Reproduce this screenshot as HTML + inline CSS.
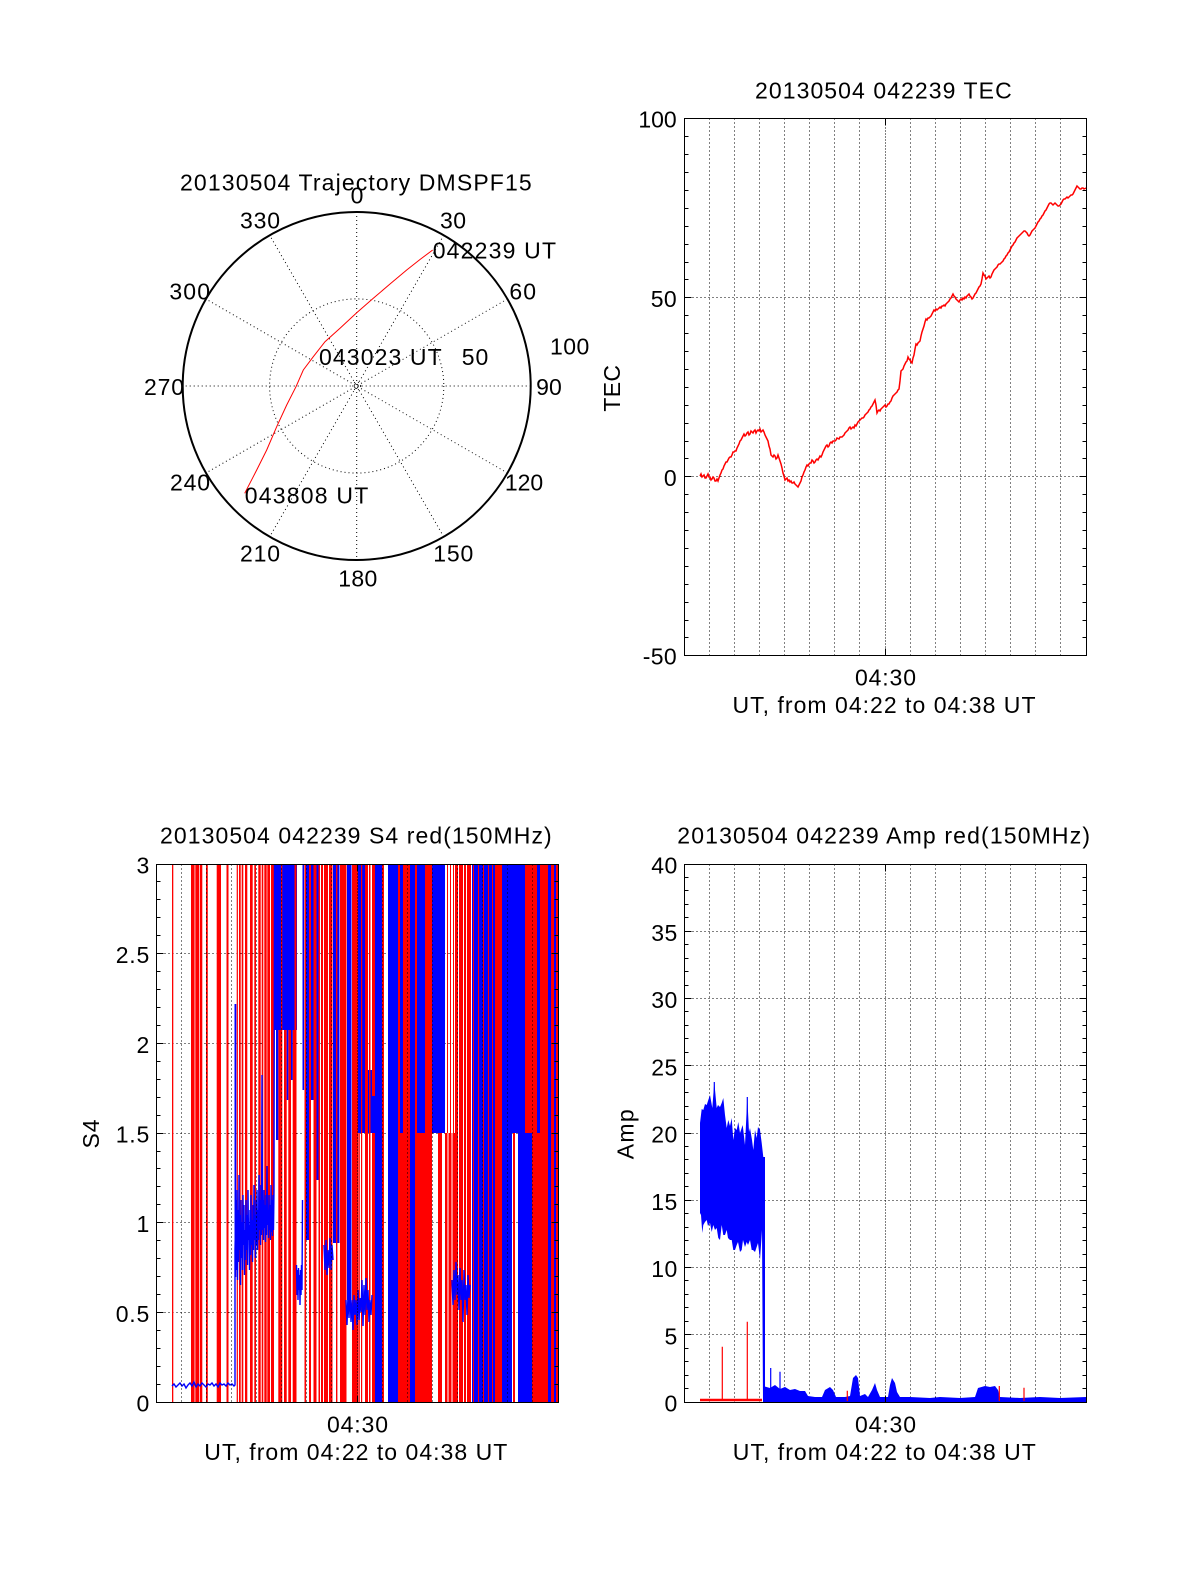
<!DOCTYPE html>
<html><head><meta charset="utf-8"><style>
html,body{margin:0;padding:0;background:#fff}
svg{display:block}
text{font-family:"Liberation Sans",Arial,Helvetica,sans-serif;font-size:23px;fill:#000}
.ax{fill:none;stroke:#000;stroke-width:1}
.g{fill:none;stroke:#000;stroke-width:1;stroke-dasharray:1 3}
.g2{fill:none;stroke:#000;stroke-width:1;stroke-dasharray:1 2}
.r{fill:#ff0000}.b{fill:#0000ff}
.rl{fill:none;stroke:#ff0000;stroke-width:1.5}
.bl{fill:none;stroke:#0000ff;stroke-width:1.4}
</style></head><body>
<svg width="1200" height="1575" viewBox="0 0 1200 1575" xmlns="http://www.w3.org/2000/svg">
<rect width="1200" height="1575" fill="#fff"/>

<!-- ================= POLAR ================= -->
<g>
<circle cx="356.7" cy="386" r="87.1" class="g" stroke-dasharray="1 3"/>
<circle cx="356.7" cy="386" r="4" class="g" stroke-dasharray="1 2"/>
<path class="g" d="M356.7 212L356.7 560M443.7 235.3L269.7 536.7M507.4 299L206 473M530.7 386L182.7 386M507.4 473L206 299M443.7 536.7L269.7 235.3"/>
<circle cx="356.7" cy="386" r="174" fill="none" stroke="#000" stroke-width="2"/>
<polyline fill="none" stroke="#ff0000" stroke-width="1" points="432.7,250 420,259.5 406.7,270 390,284 373.3,298.3 356.7,312.7 340,328.3 325,341.7 313.3,356.7 303.3,370 296,386.7 286.7,405 276.7,426.7 266.7,450 256.7,470 244.7,493.3"/>
<text x="180" y="190.7" textLength="351.7">20130504 Trajectory DMSPF15</text>
<text x="357" y="203.3" text-anchor="middle">0</text>
<text x="260" y="228.3" text-anchor="middle" textLength="40">330</text>
<text x="453" y="228.3" text-anchor="middle" textLength="26">30</text>
<text x="432.7" y="258.3" textLength="123.3">042239 UT</text>
<text x="189.7" y="299.3" text-anchor="middle" textLength="40.7">300</text>
<text x="522.7" y="299.3" text-anchor="middle" textLength="26.7">60</text>
<text x="569.7" y="354.3" text-anchor="middle" textLength="39.3">100</text>
<text x="319" y="365" textLength="122.7">043023 UT</text>
<text x="475" y="365" text-anchor="middle" textLength="26.6">50</text>
<text x="164" y="395" text-anchor="middle" textLength="40">270</text>
<text x="549" y="395" text-anchor="middle" textLength="25.7">90</text>
<text x="190" y="490.7" text-anchor="middle" textLength="40">240</text>
<text x="524" y="490.7" text-anchor="middle" textLength="38.3">120</text>
<text x="244.7" y="503.3" textLength="123.6">043808 UT</text>
<text x="260" y="561.7" text-anchor="middle" textLength="40">210</text>
<text x="453.3" y="561.7" text-anchor="middle" textLength="40">150</text>
<text x="357.8" y="586.7" text-anchor="middle" textLength="39">180</text>
</g>

<!-- ================= TEC ================= -->
<g>
<path class="g" d="M684.5 297.5H1086.5M684.5 476.5H1086.5"/>
<path class="g" d="M709.5 118.5V655.5M734.5 118.5V655.5M759.5 118.5V655.5M784.5 118.5V655.5M809.5 118.5V655.5M834.5 118.5V655.5M859.5 118.5V655.5M910.5 118.5V655.5M935.5 118.5V655.5M960.5 118.5V655.5M985.5 118.5V655.5M1010.5 118.5V655.5M1035.5 118.5V655.5M1060.5 118.5V655.5"/>
<path class="g2" d="M885.5 118.5V655.5"/>
<polyline class="rl" points="700,476 701,474 702,477 703,476 704,475 705,478 706,478 707,476 708,474 709,477 710,477 711,480 712,479 713,477 714,478 715,481 716,481 717,479 718,481 719,478 720,475 721,473 722,470 723,469 724,466 725,464 726,462 727,462 728,460 729,458 730,457 731,457 732,455 733,452 734,452 735,451 736,451 737,448 738,446 739,444 740,441 741,440 742,438 743,436 744,434 745,436 746,435 747,433 748,432 749,435 750,434 751,431 752,432 753,433 754,431 755,430 756,433 757,431 758,430 759,431 760,429 761,432 762,431 763,430 764,432 765,435 766,437 767,439 768,441 769,446 770,449 771,455 772,456 773,457 774,455 775,456 776,459 777,458 778,455 779,458 780,461 781,464 782,468 783,473 784,476 785,480 786,479 787,478 788,481 789,480 790,482 791,481 792,483 793,483 794,482 795,484 796,485 797,486 798,487 799,485 800,483 801,481 802,477 803,475 804,472 805,470 806,467 807,465 808,466 809,464 810,463 811,463 812,460 813,461 814,463 815,462 816,460 817,459 818,460 819,458 820,456 821,457 822,455 823,452 824,450 825,448 826,446 827,445 828,447 829,446 830,443 831,442 832,443 833,441 835,441 836,440 837,438 839,439 840,437 842,437 843,436 844,435 845,433 846,432 847,431 848,430 849,428 850,427 851,429 852,428 853,427 854,428 855,425 856,426 857,424 858,422 859,421 860,420 861,419 862,418 863,418 864,417 865,415 866,414 867,413 868,412 869,410 870,409 871,407 872,406 873,404 874,402 875,400 876,405 877,413 878,411 879,410 880,411 881,409 882,408 883,407 884,406 885,405 886,407 887,406 888,404 889,404 890,402 891,401 892,398 893,396 894,395 895,394 896,393 897,392 898,390 899,389 900,381 901,371 902,370 903,369 904,366 905,364 906,362 907,361 908,357 909,359 910,360 911,362 912,363 913,358 914,355 915,349 916,344 917,345 918,343 919,342 920,341 921,336 922,332 923,329 924,326 925,322 926,319 927,320 928,318 929,318 930,317 931,316 932,314 933,312 934,310 935,311 936,309 937,310 938,309 939,308 940,307 941,308 942,306 943,306 944,305 945,306 946,304 947,303 948,302 949,301 950,299 951,298 952,296 953,294 954,296 955,297 956,299 957,300 958,301 959,302 960,300 961,299 962,300 963,298 964,299 965,297 966,298 967,296 968,295 969,294 970,296 971,297 972,299 973,298 974,296 975,294 976,293 977,291 978,289 979,287 980,286 981,284 982,279 983,273 984,275 985,276 986,279 987,278 988,277 989,276 990,278 991,277 992,274 993,272 994,270 995,269 996,268 997,267 998,265 999,264 1000,264 1001,263 1002,262 1003,261 1004,259 1005,258 1006,256 1007,255 1008,253 1009,252 1010,250 1011,248 1012,246 1013,245 1014,243 1015,242 1016,240 1017,238 1018,237 1019,236 1020,235 1021,234 1022,233 1023,232 1024,231 1025,231 1026,232 1027,233 1028,235 1029,236 1030,235 1031,233 1032,231 1033,230 1034,229 1035,228 1036,226 1037,224 1038,222 1039,221 1040,219 1041,218 1042,216 1043,215 1044,213 1045,211 1046,210 1047,208 1048,206 1049,204 1050,203 1051,203 1052,204 1053,205 1054,204 1055,203 1056,204 1057,205 1058,206 1059,206 1060,205 1061,204 1062,202 1063,200 1064,199 1065,199 1066,198 1067,197 1068,198 1069,197 1070,196 1071,195 1072,195 1073,194 1074,192 1075,190 1076,188 1077,186 1078,187 1079,188 1080,189 1081,189 1082,188 1083,188 1084,189 1086,188"/>
<rect class="ax" x="684.5" y="118.5" width="402" height="537"/>
<path class="ax" d="M684.5 136.5h4M684.5 154.5h4M684.5 172.5h4M684.5 190.5h4M684.5 208.5h4M684.5 226.5h4M684.5 244.5h4M684.5 262.5h4M684.5 279.5h4M684.5 315.5h4M684.5 333.5h4M684.5 351.5h4M684.5 369.5h4M684.5 387.5h4M684.5 405.5h4M684.5 423.5h4M684.5 441.5h4M684.5 458.5h4M684.5 494.5h4M684.5 512.5h4M684.5 530.5h4M684.5 548.5h4M684.5 566.5h4M684.5 584.5h4M684.5 602.5h4M684.5 620.5h4M684.5 637.5h4
M1086.5 136.5h-4M1086.5 154.5h-4M1086.5 172.5h-4M1086.5 190.5h-4M1086.5 208.5h-4M1086.5 226.5h-4M1086.5 244.5h-4M1086.5 262.5h-4M1086.5 279.5h-4M1086.5 315.5h-4M1086.5 333.5h-4M1086.5 351.5h-4M1086.5 369.5h-4M1086.5 387.5h-4M1086.5 405.5h-4M1086.5 423.5h-4M1086.5 441.5h-4M1086.5 458.5h-4M1086.5 494.5h-4M1086.5 512.5h-4M1086.5 530.5h-4M1086.5 548.5h-4M1086.5 566.5h-4M1086.5 584.5h-4M1086.5 602.5h-4M1086.5 620.5h-4M1086.5 637.5h-4
M684.5 297.5h7M684.5 476.5h7M1086.5 297.5h-7M1086.5 476.5h-7M885.5 655.5v-7M885.5 118.5v7"/>
<text x="755" y="98.3" textLength="256.7">20130504 042239 TEC</text>
<text x="676.7" y="127.7" text-anchor="end" textLength="38.3">100</text>
<text x="676.7" y="306.8" text-anchor="end" textLength="26">50</text>
<text x="676.7" y="486" text-anchor="end">0</text>
<text x="676.7" y="664.5" text-anchor="end" textLength="34">-50</text>
<text x="885.5" y="685.3" text-anchor="middle" textLength="61">04:30</text>
<text x="884" y="713" text-anchor="middle" textLength="303">UT, from 04:22 to 04:38 UT</text>
<text transform="translate(620 388.3) rotate(-90)" text-anchor="middle" textLength="46.7">TEC</text>
</g>

<!-- ================= S4 ================= -->
<g>
<path class="g" d="M156.5 1312.5H558.5M156.5 1222.5H558.5M156.5 1133.5H558.5M156.5 1043.5H558.5M156.5 953.5H558.5"/>
<rect class="r" x="172" y="864" width="1.3" height="538"/>
<rect class="r" x="191" y="864" width="3.6" height="538"/>
<rect class="r" x="195.3" y="864" width="3.7" height="538"/>
<rect class="r" x="199.7" y="864" width="2.6" height="538"/>
<rect class="r" x="206" y="864" width="1.8" height="538"/>
<rect class="r" x="216.7" y="864" width="4.3" height="538"/>
<rect class="r" x="226.5" y="864" width="2" height="538"/>
<rect class="b" x="234.5" y="1004" width="1.8" height="273"/>
<rect class="r" x="236.7" y="864" width="1.2" height="538"/>
<rect class="r" x="239" y="864" width="1.7" height="538"/>
<rect class="r" x="241.7" y="864" width="1.6" height="538"/>
<rect class="r" x="245" y="864" width="2.3" height="538"/>
<rect class="r" x="250" y="864" width="2.7" height="538"/>
<rect class="r" x="254.3" y="864" width="1.7" height="538"/>
<rect class="r" x="258.3" y="864" width="2.4" height="538"/>
<rect class="r" x="261.7" y="864" width="1.6" height="538"/>
<rect class="r" x="264.3" y="864" width="2.4" height="538"/>
<rect class="r" x="267.3" y="864" width="2.7" height="538"/>
<rect class="r" x="271" y="864" width="3" height="538"/>
<rect class="b" x="274.5" y="864" width="22.5" height="166"/>
<rect class="r" x="278.3" y="1030" width="3.4" height="372"/>
<rect class="r" x="284" y="1030" width="2.7" height="372"/>
<rect class="r" x="288.3" y="1030" width="2.7" height="372"/>
<rect class="r" x="292.7" y="1030" width="2.5" height="372"/>
<rect class="r" x="281" y="864" width="1.3" height="538"/>
<rect class="r" x="294.5" y="864" width="2" height="538"/>
<rect class="b" x="276" y="1030" width="2.3" height="110"/>
<rect class="b" x="286.7" y="1030" width="1.6" height="70"/>
<rect class="b" x="291" y="1030" width="1.7" height="50"/>
<rect class="b" x="302.5" y="864" width="1.6" height="226"/>
<rect class="r" x="304.5" y="864" width="1.6" height="538"/>
<rect class="b" x="306" y="864" width="3" height="376"/>
<rect class="r" x="309" y="864" width="2" height="538"/>
<rect class="b" x="311" y="864" width="2.5" height="236"/>
<rect class="r" x="313.5" y="864" width="3" height="538"/>
<rect class="b" x="316.5" y="864" width="2" height="316"/>
<rect class="r" x="318.5" y="864" width="1.5" height="538"/>
<rect class="r" x="321" y="864" width="2" height="538"/>
<rect class="r" x="324" y="864" width="4" height="538"/>
<rect class="r" x="329" y="864" width="3.5" height="538"/>
<rect class="b" x="333" y="864" width="6.5" height="379"/>
<rect class="r" x="336" y="864" width="1.4" height="538"/>
<rect class="r" x="340" y="864" width="6.5" height="538"/>
<rect class="b" x="347" y="864" width="4.5" height="436"/>
<rect class="r" x="352" y="864" width="6" height="538"/>
<rect class="b" x="358" y="864" width="7" height="269"/>
<rect class="r" x="361" y="864" width="1.2" height="538"/>
<rect class="r" x="358.3" y="1133" width="1.5" height="269"/>
<rect class="r" x="365" y="864" width="3" height="538"/>
<rect class="b" x="368" y="1070" width="4" height="63"/>
<rect class="r" x="369" y="864" width="1.5" height="538"/>
<rect class="r" x="372" y="864" width="3" height="538"/>
<rect class="b" x="372" y="1096" width="3" height="37"/>
<rect class="b" x="375" y="864" width="7" height="538"/>
<rect class="r" x="382" y="864" width="2" height="538"/>
<rect class="b" x="388" y="864" width="10" height="538"/>
<rect class="r" x="398" y="864" width="2" height="538"/>
<rect class="b" x="400" y="864" width="3" height="269"/>
<rect class="r" x="400" y="1133" width="3" height="269"/>
<rect class="r" x="403" y="864" width="7" height="538"/>
<rect class="b" x="410" y="864" width="5" height="538"/>
<rect class="r" x="415" y="864" width="2" height="538"/>
<rect class="b" x="417" y="864" width="8" height="269"/>
<rect class="r" x="417" y="1133" width="8" height="269"/>
<rect class="r" x="425" y="864" width="7" height="538"/>
<rect class="b" x="432" y="864" width="13" height="269"/>
<rect class="r" x="438" y="1133" width="4" height="269"/>
<rect class="r" x="445" y="1133" width="2.5" height="269"/>
<rect class="r" x="448.5" y="1133" width="3" height="269"/>
<rect class="r" x="452.5" y="1133" width="2.5" height="269"/>
<rect class="r" x="447" y="864" width="1" height="269"/>
<rect class="r" x="450" y="864" width="1" height="269"/>
<rect class="r" x="453" y="864" width="1" height="269"/>
<rect class="r" x="455" y="864" width="3" height="538"/>
<rect class="r" x="459" y="864" width="4" height="538"/>
<rect class="r" x="464" y="864" width="2" height="538"/>
<rect class="r" x="467" y="864" width="4" height="538"/>
<rect class="b" x="472" y="864" width="23" height="538"/>
<rect class="r" x="473" y="864" width="1" height="538"/>
<rect class="r" x="478" y="864" width="1" height="538"/>
<rect class="r" x="483" y="864" width="1" height="538"/>
<rect class="r" x="488" y="864" width="1" height="538"/>
<rect class="r" x="492" y="864" width="1" height="538"/>
<rect class="r" x="495" y="864" width="7" height="538"/>
<rect class="b" x="502" y="864" width="10" height="538"/>
<rect class="b" x="512" y="864" width="6" height="269"/>
<rect class="r" x="513" y="1133" width="2" height="269"/>
<rect class="b" x="518" y="864" width="7" height="538"/>
<rect class="r" x="525" y="864" width="7" height="269"/>
<rect class="b" x="525" y="1133" width="7" height="269"/>
<rect class="r" x="532" y="864" width="5" height="538"/>
<rect class="b" x="537" y="864" width="3" height="269"/>
<rect class="r" x="537" y="1133" width="3" height="269"/>
<rect class="r" x="540" y="864" width="8" height="538"/>
<rect class="b" x="548" y="864" width="3" height="538"/>
<rect class="r" x="551" y="864" width="3" height="538"/>
<rect class="b" x="554" y="864" width="2" height="538"/>
<rect class="r" x="556" y="864" width="2.5" height="538"/>
<polyline class="bl" points="172,1386 174,1384 176,1387 178,1385 180,1383 182,1386 184,1384 186,1388 188,1385 190,1383 192,1386 194,1382 196,1387 198,1384 200,1386 202,1383 204,1385 206,1387 208,1384 210,1385 212,1383 214,1386 216,1384 218,1387 220,1383 222,1385 224,1384 226,1386 228,1383 230,1385 232,1384 234,1386 235,1385 235,1250"/>
<polyline class="bl" points="235,1250 236,1200 236.5,1270 237,1190 237.5,1280 238,1210 238.5,1262 239,1175 239.5,1250 240,1215 240.5,1285 241,1200 241.5,1258 242,1222 242.5,1270 243,1195 243.5,1245 244,1205 244.5,1275 245,1230 245.5,1260 246,1200 246.5,1250 247,1215 247.5,1265 248,1190 248.5,1240 249,1225 249.5,1270 250,1210 250.5,1255 251,1195 251.5,1245 252,1220 252.5,1262 253,1205 253.5,1250 254,1185 254.5,1240 255,1215 255.5,1258 256,1200 256.5,1245 257,1190 257.5,1250 258,1210 258.5,1240 259,1175 259.5,1230 260,1200 260.5,1245 261,1185 261.5,1235 262,1075 262.5,1230 263,1200 263.5,1240 264,1190 264.5,1228 265,1205 265.5,1242 266,1195 266.5,1235 267,1166 267.5,1225 268,1210 268.5,1238 269,1195 269.5,1230 270,1205 270.5,1240 271,1185 271.5,1232 272,1200 272.5,1236 273,1195 273.5,1230 274,1190 274.5,864"/>
<polyline class="bl" points="296.5,1265 297,1295 297.5,1270 298,1300 298.5,1268 299,1290 299.5,1275 300,1305 300.5,1270 301,1295 301.5,1265 302,1290 302.5,1200"/>
<polyline class="bl" points="324,1245 325,1270 326,1240 327,1275 328,1250 329,1268 330,1238 331,1270 332,1245 333,1260"/>
<polyline class="bl" points="346,1300 347,1325 348,1295 349,1318 350,1290 351,1322 352,1300 353,1330 354,1295 355,1315 356,1300 357,1325 358,1290 359,1320 360,1298 361,1312 362,1280 363,1326 364,1285 365,1315 366,1278 367,1310 368,1290 369,1322 370,1300 371,1315 372,1295"/>
<polyline class="bl" points="452,1280 453,1305 454,1270 455,1300 456,1262 457,1295 458,1275 459,1310 460,1268 461,1300 462,1280 463,1322 464,1270 465,1300 466,1285 467,1315 468,1275 469,1298 470,1285"/>
<path class="g" d="M181.5 864.5V1402.5M206.5 864.5V1402.5M231.5 864.5V1402.5M256.5 864.5V1402.5M281.5 864.5V1402.5M306.5 864.5V1402.5M331.5 864.5V1402.5M382.5 864.5V1402.5M407.5 864.5V1402.5M432.5 864.5V1402.5M457.5 864.5V1402.5M482.5 864.5V1402.5M507.5 864.5V1402.5M532.5 864.5V1402.5"/>
<path class="g2" d="M357.5 864.5V1402.5"/>
<rect class="ax" x="156.5" y="864.5" width="402" height="538"/>
<path class="ax" d="M156.5 1384.5h4M156.5 1366.5h4M156.5 1348.5h4M156.5 1330.5h4M156.5 1294.5h4M156.5 1276.5h4M156.5 1258.5h4M156.5 1240.5h4M156.5 1204.5h4M156.5 1186.5h4M156.5 1168.5h4M156.5 1151.5h4M156.5 1115.5h4M156.5 1097.5h4M156.5 1079.5h4M156.5 1061.5h4M156.5 1025.5h4M156.5 1007.5h4M156.5 989.5h4M156.5 971.5h4M156.5 935.5h4M156.5 917.5h4M156.5 899.5h4M156.5 881.5h4
M558.5 1384.5h-4M558.5 1366.5h-4M558.5 1348.5h-4M558.5 1330.5h-4M558.5 1294.5h-4M558.5 1276.5h-4M558.5 1258.5h-4M558.5 1240.5h-4M558.5 1204.5h-4M558.5 1186.5h-4M558.5 1168.5h-4M558.5 1151.5h-4M558.5 1115.5h-4M558.5 1097.5h-4M558.5 1079.5h-4M558.5 1061.5h-4M558.5 1025.5h-4M558.5 1007.5h-4M558.5 989.5h-4M558.5 971.5h-4M558.5 935.5h-4M558.5 917.5h-4M558.5 899.5h-4M558.5 881.5h-4
M156.5 1312.5h7M156.5 1222.5h7M156.5 1133.5h7M156.5 1043.5h7M156.5 953.5h7M558.5 1312.5h-7M558.5 1222.5h-7M558.5 1133.5h-7M558.5 1043.5h-7M558.5 953.5h-7M357.5 1402.5v-7M357.5 864.5v7"/>
<text x="160" y="843.3" textLength="391.7">20130504 042239 S4 red(150MHz)</text>
<text x="149.3" y="873.5" text-anchor="end">3</text>
<text x="149.3" y="963.2" text-anchor="end" textLength="33.6">2.5</text>
<text x="149.3" y="1052.8" text-anchor="end">2</text>
<text x="149.3" y="1142.5" text-anchor="end" textLength="33.6">1.5</text>
<text x="149.3" y="1232.2" text-anchor="end">1</text>
<text x="149.3" y="1321.8" text-anchor="end" textLength="33.6">0.5</text>
<text x="149.3" y="1411.5" text-anchor="end">0</text>
<text x="357.5" y="1432.7" text-anchor="middle" textLength="61">04:30</text>
<text x="355.8" y="1460" text-anchor="middle" textLength="303">UT, from 04:22 to 04:38 UT</text>
<text transform="translate(99 1134) rotate(-90)" text-anchor="middle" textLength="29">S4</text>
</g>

<!-- ================= AMP ================= -->
<g>
<path class="g" d="M684.5 1334.5H1086.5M684.5 1267.5H1086.5M684.5 1200.5H1086.5M684.5 1133.5H1086.5M684.5 1065.5H1086.5M684.5 998.5H1086.5M684.5 931.5H1086.5"/>
<path class="g" d="M709.5 864.5V1402.5M734.5 864.5V1402.5M759.5 864.5V1402.5M784.5 864.5V1402.5M809.5 864.5V1402.5M834.5 864.5V1402.5M859.5 864.5V1402.5M910.5 864.5V1402.5M935.5 864.5V1402.5M960.5 864.5V1402.5M985.5 864.5V1402.5M1010.5 864.5V1402.5M1035.5 864.5V1402.5M1060.5 864.5V1402.5"/>
<path class="g2" d="M885.5 864.5V1402.5"/>
<polygon class="b" points="700,1123 701.7,1109 703.3,1110 705,1104 706.7,1105 708.3,1100 710,1095 712.3,1108 714.3,1082 716.7,1108 718,1105 720,1107 721.7,1103 723.3,1098 725,1115 726.7,1128 728.3,1120 730,1126 731.7,1118 733.3,1140 735,1128 736.7,1130 738.3,1122 740,1133 742.7,1125 745,1145 747.3,1097 749,1132 750,1128 752,1140 753.3,1150 755,1130 756.7,1138 758,1127 760,1130 761.7,1143 763.3,1157 765,1157 765,1402 763,1402 762,1230 760,1260 758,1243 755,1252 753,1250 751.7,1250 750,1240 748,1245 746.7,1242 745,1247 743,1240 741.7,1250 740,1252 738,1242 736.7,1245 735,1250 733.3,1250 731.7,1240 730,1240 728,1238 726.7,1230 725,1235 723.3,1235 721.7,1225 720,1240 718.3,1238 716.7,1228 715,1230 713.3,1225 711.7,1232 710,1223 708,1226 706.7,1220 705,1222 703.3,1225 702.3,1233 701,1215 700,1213"/>
<polygon class="b" points="763,1402 763,1386 770,1388 775,1385 780,1389 785,1387 790,1390 795,1389 800,1391 805,1391 808,1396 815,1397 822,1397 825,1390 830,1387 833,1390 836,1397 845,1397 850,1396 853,1378 856,1375 858,1378 860,1396 865,1394 868,1397 872,1390 875,1383 877,1390 880,1397 888,1397 890,1385 892,1378 895,1383 897,1392 900,1397 910,1397 930,1398 940,1397 960,1398 975,1397 978,1388 985,1386 990,1387 995,1386 998,1390 1000,1397 1020,1398 1040,1397 1060,1398 1086,1397 1086,1402"/>
<path stroke="#0000ff" stroke-width="1.2" fill="none" d="M770.7 1368V1390M780 1371.7V1390M714.3 1082V1110M747.3 1097V1130"/>
<path stroke="#ff0000" stroke-width="2.5" fill="none" d="M700 1400H762"/>
<path stroke="#ff0000" stroke-width="1.2" fill="none" d="M722.3 1346.7V1400M747.3 1321.7V1400M847.3 1390.7V1401M999.3 1386V1401M1024 1387.7V1401"/>
<rect class="ax" x="684.5" y="864.5" width="402" height="538"/>
<path class="ax" d="M684.5 1388.5h4M684.5 1375.5h4M684.5 1361.5h4M684.5 1348.5h4M684.5 1321.5h4M684.5 1307.5h4M684.5 1294.5h4M684.5 1280.5h4M684.5 1254.5h4M684.5 1240.5h4M684.5 1227.5h4M684.5 1213.5h4M684.5 1186.5h4M684.5 1173.5h4M684.5 1159.5h4M684.5 1146.5h4M684.5 1119.5h4M684.5 1106.5h4M684.5 1092.5h4M684.5 1079.5h4M684.5 1052.5h4M684.5 1038.5h4M684.5 1025.5h4M684.5 1011.5h4M684.5 985.5h4M684.5 971.5h4M684.5 958.5h4M684.5 944.5h4M684.5 917.5h4M684.5 904.5h4M684.5 890.5h4M684.5 877.5h4
M1086.5 1388.5h-4M1086.5 1375.5h-4M1086.5 1361.5h-4M1086.5 1348.5h-4M1086.5 1321.5h-4M1086.5 1307.5h-4M1086.5 1294.5h-4M1086.5 1280.5h-4M1086.5 1254.5h-4M1086.5 1240.5h-4M1086.5 1227.5h-4M1086.5 1213.5h-4M1086.5 1186.5h-4M1086.5 1173.5h-4M1086.5 1159.5h-4M1086.5 1146.5h-4M1086.5 1119.5h-4M1086.5 1106.5h-4M1086.5 1092.5h-4M1086.5 1079.5h-4M1086.5 1052.5h-4M1086.5 1038.5h-4M1086.5 1025.5h-4M1086.5 1011.5h-4M1086.5 985.5h-4M1086.5 971.5h-4M1086.5 958.5h-4M1086.5 944.5h-4M1086.5 917.5h-4M1086.5 904.5h-4M1086.5 890.5h-4M1086.5 877.5h-4
M684.5 1334.5h7M684.5 1267.5h7M684.5 1200.5h7M684.5 1133.5h7M684.5 1065.5h7M684.5 998.5h7M684.5 931.5h7M1086.5 1334.5h-7M1086.5 1267.5h-7M1086.5 1200.5h-7M1086.5 1133.5h-7M1086.5 1065.5h-7M1086.5 998.5h-7M1086.5 931.5h-7M885.5 1402.5v-7M885.5 864.5v7"/>
<text x="677.3" y="843.3" textLength="412.7">20130504 042239 Amp red(150MHz)</text>
<text x="677.3" y="873.5" text-anchor="end" textLength="26">40</text>
<text x="677.3" y="940.8" text-anchor="end" textLength="26">35</text>
<text x="677.3" y="1008" text-anchor="end" textLength="26">30</text>
<text x="677.3" y="1075.3" text-anchor="end" textLength="26">25</text>
<text x="677.3" y="1142.5" text-anchor="end" textLength="26">20</text>
<text x="677.3" y="1209.8" text-anchor="end" textLength="26">15</text>
<text x="677.3" y="1277" text-anchor="end" textLength="26">10</text>
<text x="677.3" y="1344.3" text-anchor="end">5</text>
<text x="677.3" y="1411.5" text-anchor="end">0</text>
<text x="885.5" y="1432.5" text-anchor="middle" textLength="61">04:30</text>
<text x="884.3" y="1460" text-anchor="middle" textLength="303">UT, from 04:22 to 04:38 UT</text>
<text transform="translate(633.3 1134.3) rotate(-90)" text-anchor="middle" textLength="50">Amp</text>
</g>
</svg>
</body></html>
